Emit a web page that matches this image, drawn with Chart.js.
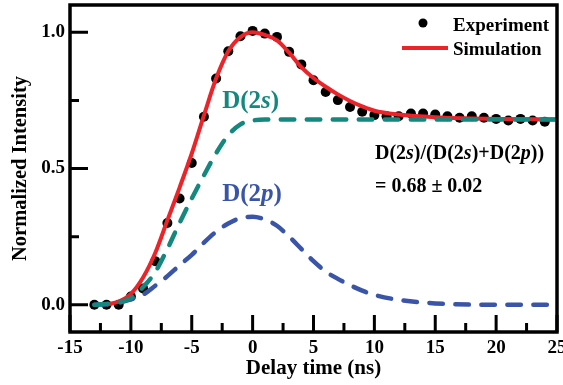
<!DOCTYPE html>
<html>
<head>
<meta charset="utf-8">
<script src="https://cdn.jsdelivr.net/npm/chart.js@4"></script>
<style>
html, body { margin: 0; padding: 0; background: #fff; }
</style>
</head>
<body>
<canvas id="canvas" width="563" height="385"></canvas>
<script>
// measured points (black dots)
var expTime = [-13, -12, -11, -10, -9, -8, -7, -6, -5, -4, -3, -2, -1, 0, 1, 2, 3, 4, 5, 6, 7, 8, 9, 10,
               11, 12, 13, 14, 15, 16, 17, 18, 19, 20, 21, 22, 23, 24];
var expValue = [0.00, 0.00, 0.00, 0.03, 0.06, 0.16, 0.30, 0.39, 0.52, 0.69, 0.83, 0.93, 0.985, 1.005, 0.995, 0.983, 0.928, 0.882, 0.824, 0.781, 0.751, 0.726, 0.708, 0.696,
                0.692, 0.692, 0.702, 0.702, 0.698, 0.692, 0.686, 0.692, 0.686, 0.682, 0.676, 0.682, 0.676, 0.672];

// simulation (red)
var simTime = [-12, -11, -10, -9, -8, -7, -6, -5, -4, -3, -2, -1, 0, 1, 2, 3, 4, 5, 6, 7, 8, 9, 10, 12, 15, 20, 25];
var simValue = [0.00, 0.012, 0.04, 0.10, 0.19, 0.31, 0.43, 0.555, 0.695, 0.83, 0.93, 0.982, 1.0, 0.99, 0.97, 0.925, 0.872, 0.832, 0.80, 0.772, 0.748, 0.728, 0.712, 0.698, 0.688, 0.682, 0.68];

// D(2s) component (teal dashed)
var d2sTime = [-13, -12, -11, -10, -9, -8, -7, -6, -5, -4, -3, -2, -1, 0, 1, 25];
var d2sValue = [0.00, 0.003, 0.008, 0.024, 0.065, 0.12, 0.205, 0.30, 0.39, 0.475, 0.556, 0.622, 0.662, 0.676, 0.68, 0.68];

// D(2p) component (blue dashed)
var d2pTime = [-13, -12, -11, -10, -9, -8, -7, -6, -5, -4, -3, -2, -1, 0, 1, 2, 3, 4, 5, 6, 7, 8, 9, 10, 12, 15, 20, 25];
var d2pValue = [0.00, 0.002, 0.008, 0.02, 0.037, 0.07, 0.105, 0.145, 0.183, 0.228, 0.268, 0.298, 0.318, 0.323, 0.313, 0.29, 0.25, 0.205, 0.16, 0.122, 0.095, 0.072, 0.052, 0.036, 0.018, 0.005, 0.0, 0.0];

var xTicks = [-15, -10, -5, 0, 5, 10, 15, 20, 25];
var xMinorTicks = [-12.5, -7.5, -2.5, 2.5, 7.5, 12.5, 17.5, 22.5];
var yTicks = [0, 0.5, 1.0];
var yMinorTicks = [0.25, 0.75];

var RED = '#ec2328';
var TEAL = '#14877f';
var BLUE = '#3a55a8';
var FONT = '"Liberation Serif", "Times New Roman", serif';

function pairs(xs, ys) {
    var out = [];
    for (var i = 0; i < xs.length; i++) {
        out.push({x: xs[i], y: ys[i]});
    }
    return out;
}

function drawRuns(ctx, x, y, runs, color) {
    ctx.fillStyle = color;
    ctx.textBaseline = 'alphabetic';
    ctx.textAlign = 'left';
    runs.forEach(function(r) {
        ctx.font = r[1];
        ctx.fillText(r[0], x, y);
        x += ctx.measureText(r[0]).width;
    });
}

var decorations = {
    id: 'decorations',
    afterDraw: function(chart) {
        var ctx = chart.ctx;
        var a = chart.chartArea;
        var xs = chart.scales.x, ys = chart.scales.y;
        ctx.save();
        ctx.strokeStyle = '#000';

        // inward ticks
        ctx.lineWidth = 3;
        ctx.beginPath();
        xTicks.forEach(function(v) {
            var px = xs.getPixelForValue(v);
            ctx.moveTo(px, a.bottom); ctx.lineTo(px, a.bottom - 17);
        });
        xMinorTicks.forEach(function(v) {
            var px = xs.getPixelForValue(v);
            ctx.moveTo(px, a.bottom); ctx.lineTo(px, a.bottom - 9);
        });
        yTicks.forEach(function(v) {
            var py = ys.getPixelForValue(v);
            ctx.moveTo(a.left, py); ctx.lineTo(a.left + 18, py);
        });
        yMinorTicks.forEach(function(v) {
            var py = ys.getPixelForValue(v);
            ctx.moveTo(a.left, py); ctx.lineTo(a.left + 9, py);
        });
        ctx.stroke();

        // frame
        ctx.lineWidth = 3.5;
        ctx.strokeRect(a.left, a.top, a.right - a.left, a.bottom - a.top);

        // legend
        var ds = chart.data.datasets;
        ctx.font = 'bold 19px ' + FONT;
        ctx.textBaseline = 'alphabetic';
        ctx.textAlign = 'left';
        ctx.fillStyle = '#000';
        ctx.beginPath();
        ctx.arc(a.right - 134, a.top + 18, 4.5, 0, Math.PI * 2);
        ctx.fill();
        ctx.fillText(ds[3].label, a.right - 104, a.top + 26);
        ctx.strokeStyle = ds[2].borderColor;
        ctx.lineWidth = 4;
        ctx.beginPath();
        ctx.moveTo(a.right - 155, a.top + 43);
        ctx.lineTo(a.right - 109, a.top + 43);
        ctx.stroke();
        ctx.fillText(ds[2].label, a.right - 104, a.top + 50);

        // component labels
        var big = 'bold 25px ' + FONT, bigI = 'italic bold 25px ' + FONT;
        drawRuns(ctx, xs.getPixelForValue(-2.5), ys.getPixelForValue(0.722),
            [['D(2', big], ['s', bigI], [')', big]], TEAL);
        drawRuns(ctx, xs.getPixelForValue(-2.5), ys.getPixelForValue(0.38),
            [['D(2', big], ['p', bigI], [')', big]], BLUE);

        // ratio text
        var b = 'bold 20px ' + FONT, bi = 'italic bold 20px ' + FONT;
        var tx = xs.getPixelForValue(10.05);
        drawRuns(ctx, tx, ys.getPixelForValue(0.535),
            [['D(2', b], ['s', bi], [')/(D(2', b], ['s', bi], [')+D(2', b], ['p', bi], ['))', b]], '#000');
        drawRuns(ctx, tx, ys.getPixelForValue(0.414), [['= 0.68 \u00b1 0.02', b]], '#000');
        ctx.restore();
    }
};

var ctx = document.getElementById('canvas');

var chart = new Chart(ctx, {
    type: 'line',
    data: {
        datasets: [
            {
                label: 'D(2s)',
                data: pairs(d2sTime, d2sValue),
                borderColor: TEAL,
                borderWidth: 4.5,
                borderDash: [13.5, 12.5],
                borderCapStyle: 'round',
                pointRadius: 0,
                cubicInterpolationMode: 'monotone',
                order: 0
            },
            {
                label: 'D(2p)',
                data: pairs(d2pTime, d2pValue),
                borderColor: BLUE,
                borderWidth: 4.5,
                borderDash: [13.5, 12.5],
                borderCapStyle: 'round',
                pointRadius: 0,
                cubicInterpolationMode: 'monotone',
                order: 1
            },
            {
                label: 'Simulation',
                data: pairs(simTime, simValue),
                borderColor: RED,
                borderWidth: 4,
                pointRadius: 0,
                cubicInterpolationMode: 'monotone',
                order: 2
            },
            {
                label: 'Experiment',
                data: pairs(expTime, expValue),
                showLine: false,
                pointRadius: 5,
                pointBackgroundColor: '#000',
                pointBorderWidth: 0,
                order: 3
            }
        ]
    },
    options: {
        responsive: false,
        animation: false,
        devicePixelRatio: 1,
        layout: {
            autoPadding: false,
            padding: {top: 5, right: 6, left: 0, bottom: 0}
        },
        plugins: {
            legend: {display: false},
            tooltip: {enabled: false}
        },
        scales: {
            x: {
                type: 'linear',
                min: -15,
                max: 25,
                afterBuildTicks: function(scale) {
                    scale.ticks = xTicks.map(function(v) { return {value: v}; });
                },
                afterFit: function(scale) {
                    scale.height = 53;
                    scale.paddingLeft = 0;
                    scale.paddingRight = 0;
                },
                grid: {display: false, drawTicks: false},
                border: {display: false},
                ticks: {
                    padding: 5,
                    color: '#000',
                    maxRotation: 0,
                    font: {family: FONT, size: 19, weight: 'bold'}
                },
                title: {
                    display: true,
                    text: 'Delay time (ns)',
                    color: '#000',
                    padding: {top: 0, bottom: 4},
                    font: {family: FONT, size: 21, weight: 'bold'}
                }
            },
            y: {
                type: 'linear',
                min: -0.1,
                max: 1.1,
                afterBuildTicks: function(scale) {
                    scale.ticks = yTicks.map(function(v) { return {value: v}; });
                },
                afterFit: function(scale) {
                    scale.width = 70;
                    scale.paddingTop = 0;
                    scale.paddingBottom = 0;
                },
                grid: {display: false, drawTicks: false},
                border: {display: false},
                ticks: {
                    padding: 5,
                    color: '#000',
                    font: {family: FONT, size: 19, weight: 'bold'},
                    callback: function(v) { return v.toFixed(1); }
                },
                title: {
                    display: true,
                    text: 'Normalized Intensity',
                    color: '#000',
                    padding: {top: 8, bottom: 0},
                    font: {family: FONT, size: 20.5, weight: 'bold'}
                }
            }
        }
    },
    plugins: [decorations]
});
</script>
</body>
</html>
